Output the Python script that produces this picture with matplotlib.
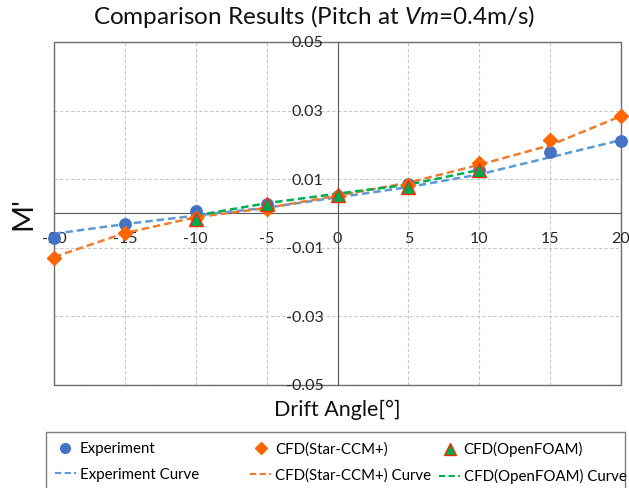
import matplotlib
matplotlib.use("Agg")
import matplotlib.pyplot as plt
from matplotlib.lines import Line2D
from matplotlib.patches import Rectangle

plt.rcParams['font.family'] = ['Lato', 'DejaVu Sans']
plt.rcParams['mathtext.fontset'] = 'custom'
plt.rcParams['mathtext.it'] = 'Lato:italic'
plt.rcParams['mathtext.rm'] = 'Lato'

angles = [-20, -15, -10, -5, 0, 5, 10, 15, 20]
exp_vals = [-0.0072, -0.0031, 0.0008, 0.0028, 0.0051, 0.0087, 0.0127, 0.0180, 0.0211]
star_vals = [-0.0129, -0.0057, -0.0014, 0.0013, 0.0050, 0.0083, 0.0148, 0.0215, 0.0284]
of_angles = [-10, -5, 0, 5, 10]
of_vals = [-0.0016, 0.0028, 0.0054, 0.0078, 0.0127]

exp_curve = [-0.0059, -0.0031, -0.0006, 0.0017, 0.0047, 0.0077, 0.0114, 0.0164, 0.0214]
star_curve = [-0.0127, -0.0057, -0.0011, 0.0016, 0.0052, 0.0090, 0.0142, 0.0199, 0.0284]
of_curve = [-0.0006, 0.0030, 0.0058, 0.0084, 0.0127]

xticks = [-20, -15, -10, -5, 0, 5, 10, 15, 20]
yticks = [-0.05, -0.03, -0.01, 0.01, 0.03, 0.05]
ytick_labels = ['-0.05', '-0.03', '-0.01', '0.01', '0.03', '0.05']

W, H = 629, 488
fig = plt.figure(figsize=(W/100, H/100), dpi=100)
ax = fig.add_axes([54/W, 1-385/H, (621-54)/W, (385-42)/H])

ax.set_xlim(-20, 20)
ax.set_ylim(-0.05, 0.05)

for x in xticks:
    ax.axvline(x, color='#C8C8C8', lw=0.8, ls=(0, (3, 2)), zorder=0)
for y in yticks:
    ax.axhline(y, color='#C8C8C8', lw=0.8, ls=(0, (3, 2)), zorder=0)

for s in ['top', 'right']:
    ax.spines[s].set_visible(False)
ax.spines['left'].set_position(('data', 0))
ax.spines['bottom'].set_position(('data', 0))
ax.spines['left'].set_color('#595959')
ax.spines['bottom'].set_color('#595959')
ax.add_patch(Rectangle((0, 0), 1, 1, transform=ax.transAxes, fill=False,
                       edgecolor='#6E6E6E', lw=1.0, clip_on=False, zorder=1))

ax.set_xticks(xticks)
ax.set_xticklabels([str(v) for v in xticks])
ax.set_yticks(yticks)
ax.set_yticklabels(ytick_labels)
ax.tick_params(axis='both', length=0, labelsize=11.5, colors='#262626')
ax.tick_params(axis='x', pad=13)
ax.tick_params(axis='y', pad=10)

c_exp = '#4472C4'
c_exp_line = '#5B9BD5'
c_star = '#FF6600'
c_star_line = '#ED7D31'
c_of = '#00A650'
c_of_line = '#00B050'
c_of_edge = '#FF2A00'
dash = (0, (3, 1.6))

ax.plot(angles, exp_curve, ls=dash, color=c_exp_line, lw=1.8, zorder=3)
ax.plot(angles, star_curve, ls=dash, color=c_star_line, lw=1.8, zorder=3)
ax.plot(of_angles, of_curve, ls=dash, color=c_of_line, lw=1.8, zorder=3)

ax.plot(angles, exp_vals, 'o', color=c_exp, ms=8.2, zorder=4, clip_on=False)
ax.plot(angles, star_vals, 'D', color=c_star, ms=7.2, zorder=5, clip_on=False)
ax.plot(of_angles, of_vals, '^', color=c_of, mec=c_of_edge, mew=1.0, ms=10, zorder=6)

fig.text(0.5, 1-17/H, 'Comparison Results (Pitch at $\\mathit{Vm}$=0.4m/s)',
         ha='center', va='center', fontsize=17.5, color='#111111')
fig.text(337/W, 1-410/H, 'Drift Angle[°]', ha='center', va='center',
         fontsize=15.5, color='#111111')
fig.text(23/W, 1-214/H, "M'", ha='center', va='center', rotation=90,
         fontsize=21, color='#111111')

# legend frame
fig.patches.append(Rectangle((46/W, -0.05), (625-46)/W, 1-432/H + 0.05,
                             transform=fig.transFigure, fill=False,
                             edgecolor='#7F7F7F', lw=1.0))

groups = [
    (Line2D([], [], marker='o', color=c_exp, ls='none', ms=7),
     Line2D([], [], color=c_exp_line, ls=dash, lw=1.5),
     'Experiment', 'Experiment Curve', 52),
    (Line2D([], [], marker='D', color=c_star, ls='none', ms=6.5),
     Line2D([], [], color=c_star_line, ls=dash, lw=1.5),
     'CFD(Star-CCM+)', 'CFD(Star-CCM+) Curve', 247),
    (Line2D([], [], marker='^', color=c_of, mec=c_of_edge, ls='none', ms=8.5),
     Line2D([], [], color=c_of_line, ls=dash, lw=1.5),
     'CFD(OpenFOAM)', 'CFD(OpenFOAM) Curve', 436),
]
for hm, hl, lm, ll, x0 in groups:
    fig.legend([hm, hl], [lm, ll], loc='upper left',
               bbox_to_anchor=(x0/W, 1-439/H), fontsize=10.8,
               frameon=False, handlelength=1.4, handletextpad=0.25,
               labelspacing=0.78, borderaxespad=0, borderpad=0.2)

fig.savefig('out.png', dpi=100)
